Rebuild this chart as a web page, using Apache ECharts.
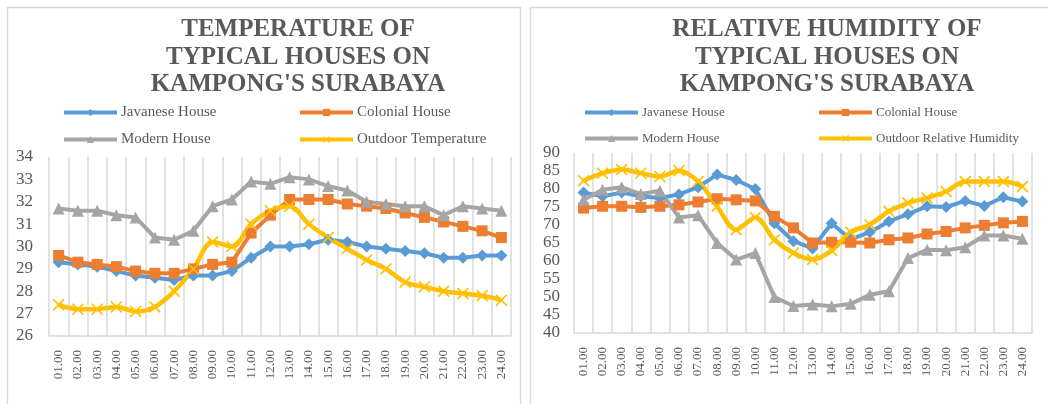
<!DOCTYPE html>
<html>
<head>
<meta charset="utf-8">
<script src="https://cdn.jsdelivr.net/npm/echarts@6/dist/echarts.min.js"></script>
<style>
html,body{margin:0;padding:0;background:#fff;}
#c{width:1048px;height:404px;}
</style>
</head>
<body>
<div id="c"></div>
<script>
var hours = ['01.00','02.00','03.00','04.00','05.00','06.00','07.00','08.00','09.00','10.00','11.00','12.00',
             '13.00','14.00','15.00','16.00','17.00','18.00','19.00','20.00','21.00','22.00','23.00','24.00'];

var tempJavanese = [29.3, 29.2, 29.1, 28.9, 28.7, 28.6, 28.5, 28.7, 28.7, 28.9, 29.5, 30.0, 30.0, 30.1, 30.3, 30.2, 30.0, 29.9, 29.8, 29.7, 29.5, 29.5, 29.6, 29.6];
var tempColonial = [29.6, 29.3, 29.2, 29.1, 28.9, 28.8, 28.8, 29.0, 29.2, 29.3, 30.6, 31.4, 32.1, 32.1, 32.1, 31.9, 31.8, 31.7, 31.5, 31.3, 31.1, 30.9, 30.7, 30.4];
var tempModern   = [31.7, 31.6, 31.6, 31.4, 31.3, 30.4, 30.3, 30.7, 31.8, 32.1, 32.9, 32.8, 33.1, 33.0, 32.7, 32.5, 32.0, 31.9, 31.8, 31.8, 31.4, 31.8, 31.7, 31.6];
var tempOutdoor  = [27.4, 27.2, 27.2, 27.3, 27.1, 27.3, 28.0, 29.0, 30.2, 30.0, 31.0, 31.6, 31.8, 31.0, 30.4, 29.9, 29.4, 29.0, 28.4, 28.2, 28.0, 27.9, 27.8, 27.6];

var rhJavanese = [79.0, 78.0, 79.0, 78.0, 77.5, 78.5, 80.5, 84.0, 82.5, 80.0, 70.5, 65.5, 63.5, 70.5, 66.0, 68.0, 71.0, 73.0, 75.2, 75.0, 76.7, 75.3, 77.7, 76.5];
var rhColonial = [74.7, 75.2, 75.2, 74.9, 75.2, 75.6, 76.4, 77.3, 77.0, 76.7, 72.4, 69.2, 65.0, 65.2, 65.2, 65.0, 65.9, 66.4, 67.5, 68.2, 69.2, 69.9, 70.6, 71.0];
var rhModern   = [77.0, 79.8, 80.5, 78.6, 79.5, 72.1, 72.7, 65.0, 60.4, 62.2, 50.0, 47.5, 47.9, 47.4, 48.1, 50.6, 51.6, 60.8, 63.1, 63.0, 63.8, 67.1, 67.1, 66.2];
var rhOutdoor  = [82.3, 84.4, 85.4, 84.4, 83.5, 85.1, 82.1, 75.2, 68.7, 72.1, 65.9, 62.2, 60.4, 62.9, 68.0, 70.1, 73.8, 76.1, 77.5, 79.3, 82.1, 82.1, 82.1, 80.7];

var tempTitle = 'TEMPERATURE OF\nTYPICAL HOUSES ON\nKAMPONG\'S SURABAYA';
var rhTitle = 'RELATIVE HUMIDITY OF\nTYPICAL HOUSES ON\nKAMPONG\'S SURABAYA';

var C_BLUE = '#5B9BD5', C_ORANGE = '#ED7D31', C_GRAY = '#A5A5A5', C_YELLOW = '#FFC000';
var TXT = '#595959', GRID = '#d9d9d9';
var SERIF = '"Liberation Serif", "Times New Roman", serif';
var XSYM = 'path://M0,1 L1,0 L5,4 L9,0 L10,1 L6,5 L10,9 L9,10 L5,6 L1,10 L0,9 L4,5 Z';

function mkSeries(name, data, color, symbol, idx, smooth) {
  return {
    name: name, type: 'line', data: data, xAxisIndex: idx, yAxisIndex: idx,
    symbol: symbol, symbolSize: symbol === 'rect' ? 11 : 12,
    smooth: smooth ? 0.35 : false,
    lineStyle: { color: color, width: smooth ? 4.5 : 4 },
    itemStyle: { color: color, borderWidth: 0 },
    emphasis: { disabled: true },
    animation: false
  };
}

function xAxis(gi) {
  return {
    type: 'category', gridIndex: gi, data: hours, boundaryGap: true,
    axisLine: { show: true, lineStyle: { color: GRID, width: 1.5 } },
    axisTick: { show: false },
    splitLine: { show: true, interval: 0, lineStyle: { color: GRID, width: 1.5 } },
    axisLabel: { interval: 0, rotate: 90, margin: 14, color: TXT, fontFamily: SERIF, fontSize: 13 }
  };
}
function yAxis(gi, min, max, iv, margin) {
  return {
    type: 'value', gridIndex: gi, min: min, max: max, interval: iv,
    axisLine: { show: false }, axisTick: { show: false }, splitLine: { show: false },
    axisLabel: { color: TXT, fontFamily: SERIF, fontSize: 17, margin: margin }
  };
}
function legend(names, left, top, fs, gap) {
  return {
    data: names, orient: 'vertical', left: left, top: top, padding: 0,
    itemWidth: 53, itemHeight: 9, itemGap: gap, selectedMode: false,
    lineStyle: { width: 4 },
    textStyle: { color: TXT, fontFamily: SERIF, fontSize: fs, padding: [0,0,0,-1] }
  };
}

var chart = echarts.init(document.getElementById('c'), null, { renderer: 'canvas' });
chart.setOption({
  animation: false,
  backgroundColor: '#fff',
  title: [
    { text: tempTitle, left: 293, top: 11, textAlign: 'center',
      textStyle: { fontFamily: SERIF, fontWeight: 'bold', fontSize: 25, color: TXT, lineHeight: 27.5 } },
    { text: rhTitle, left: 822, top: 11, textAlign: 'center',
      textStyle: { fontFamily: SERIF, fontWeight: 'bold', fontSize: 25, color: TXT, lineHeight: 27.5 } }
  ],
  legend: [
    legend(['Javanese House', 'Modern House'], 62, 105, 15, 12),
    legend(['Colonial House', 'Outdoor Temperature'], 298, 105, 15, 12),
    legend(['Javanese House', 'Modern House'], 583, 106, 13, 13),
    legend(['Colonial House', 'Outdoor Relative Humidity'], 817, 106, 13, 13)
  ],
  grid: [
    { left: 49, right: 537, top: 157, bottom: 68 },
    { left: 574, right: 16, top: 153, bottom: 71 }
  ],
  xAxis: [xAxis(0), xAxis(1)],
  yAxis: [yAxis(0, 26, 34, 1, 16), yAxis(1, 40, 90, 5, 14)],
  series: [
    mkSeries('Javanese House', tempJavanese, C_BLUE, 'diamond', 0, false),
    mkSeries('Colonial House', tempColonial, C_ORANGE, 'rect', 0, false),
    mkSeries('Modern House', tempModern, C_GRAY, 'triangle', 0, false),
    mkSeries('Outdoor Temperature', tempOutdoor, C_YELLOW, XSYM, 0, true),
    mkSeries('Javanese House', rhJavanese, C_BLUE, 'diamond', 1, false),
    mkSeries('Colonial House', rhColonial, C_ORANGE, 'rect', 1, false),
    mkSeries('Modern House', rhModern, C_GRAY, 'triangle', 1, false),
    mkSeries('Outdoor Relative Humidity', rhOutdoor, C_YELLOW, XSYM, 1, true)
  ],
  graphic: [
    { type: 'rect', silent: true, z: -10, shape: { x: 7.5, y: 7.5, width: 513, height: 420 },
      style: { fill: null, stroke: GRID, lineWidth: 1.5 } },
    { type: 'rect', silent: true, z: -10, shape: { x: 530.5, y: 7.5, width: 530, height: 420 },
      style: { fill: null, stroke: GRID, lineWidth: 1.5 } }
  ]
});
</script>
</body>
</html>
